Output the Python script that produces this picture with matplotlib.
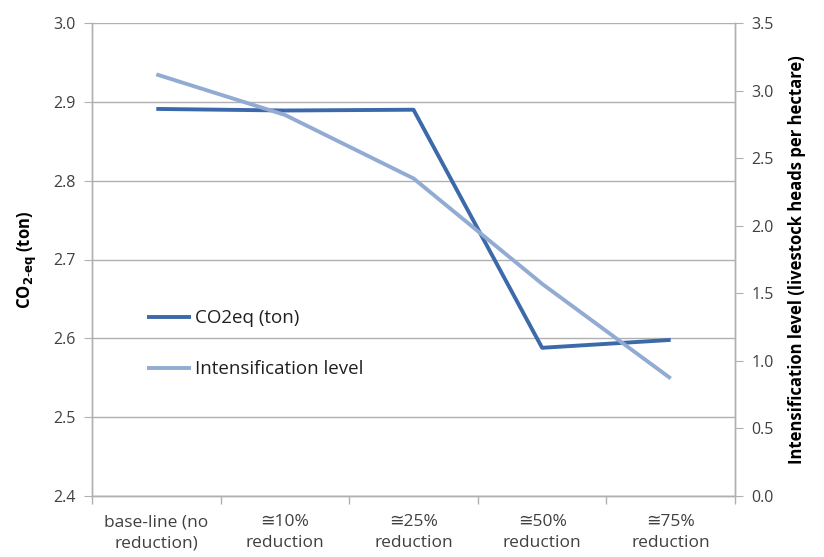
import matplotlib
matplotlib.use("Agg")
import matplotlib.pyplot as plt

categories = ["base-line (no\nreduction)", "\u224510%\nreduction", "\u224525%\nreduction",
              "\u224550%\nreduction", "\u224575%\nreduction"]
co2 = [2.891, 2.889, 2.890, 2.588, 2.598]
intens = [3.12, 2.82, 2.35, 1.57, 0.87]
left_ticks = [2.4, 2.5, 2.6, 2.7, 2.8, 2.9, 3.0]
right_ticks = [0.0, 0.5, 1.0, 1.5, 2.0, 2.5, 3.0, 3.5]

dark = "#3c69a9"
light = "#92abd3"
gray = "#b0b0b0"
txt = "#404040"

plt.rcParams['font.family'] = ['Open Sans', 'DejaVu Sans']

fig = plt.figure(figsize=(8.24, 5.57), dpi=100)
ax = fig.add_axes([92/824, 1-496/557, (735-92)/824, (496-23)/557])
ax2 = ax.twinx()

x = list(range(len(categories)))
l1, = ax.plot(x, co2, color=dark, lw=2.8, solid_capstyle='butt', zorder=3, label="CO2eq (ton)")
l2, = ax2.plot(x, intens, color=light, lw=2.8, solid_capstyle='butt', zorder=3, label="Intensification level")

ax.set_xlim(-0.5, 4.5)
ax.set_ylim(2.4, 3.0)
ax2.set_ylim(0, 3.5)
ax.set_yticks(left_ticks)
ax.set_yticklabels([f"{v:.1f}" for v in left_ticks])
ax2.set_yticks(right_ticks)
ax2.set_yticklabels([f"{v:.1f}" for v in right_ticks])
ax.set_xticks(x)
ax.set_xticklabels(categories, fontsize=12.5, color=txt, linespacing=1.45)
ax.set_xticks([i + 0.5 for i in range(-1, 5)], minor=True)
ax.tick_params(axis='x', which='major', length=0, pad=13)
ax.tick_params(axis='x', which='minor', length=6, color=gray, width=1)

ax.grid(axis='y', color=gray, lw=1)
ax.set_axisbelow(True)
for a in (ax, ax2):
    a.spines['top'].set_visible(False)
    for s in ('left', 'right', 'bottom'):
        a.spines[s].set_color(gray)
        a.spines[s].set_linewidth(1)
ax.tick_params(axis='y', length=6, color=gray, labelsize=11.5, labelcolor=txt, pad=6)
ax2.tick_params(axis='y', length=6, color=gray, labelsize=11.5, labelcolor=txt, pad=6)

ax.set_ylabel(r"CO$_{\mathbf{2\text{-}eq}}$ (ton)", fontsize=12, fontweight='bold', labelpad=10)
ax2.set_ylabel("Intensification level (livestock heads per hectare)", fontsize=12,
               fontweight='bold', labelpad=10)

leg = ax2.legend([l1, l2], ["CO2eq (ton)", "Intensification level"], loc='upper left',
                 bbox_to_anchor=(0.06, 0.43), frameon=False, fontsize=13.5,
                 handlelength=2.3, handletextpad=0.25, labelspacing=1.75)
for t in leg.get_texts():
    t.set_color("#202020")

fig.savefig("out.png", dpi=100)
